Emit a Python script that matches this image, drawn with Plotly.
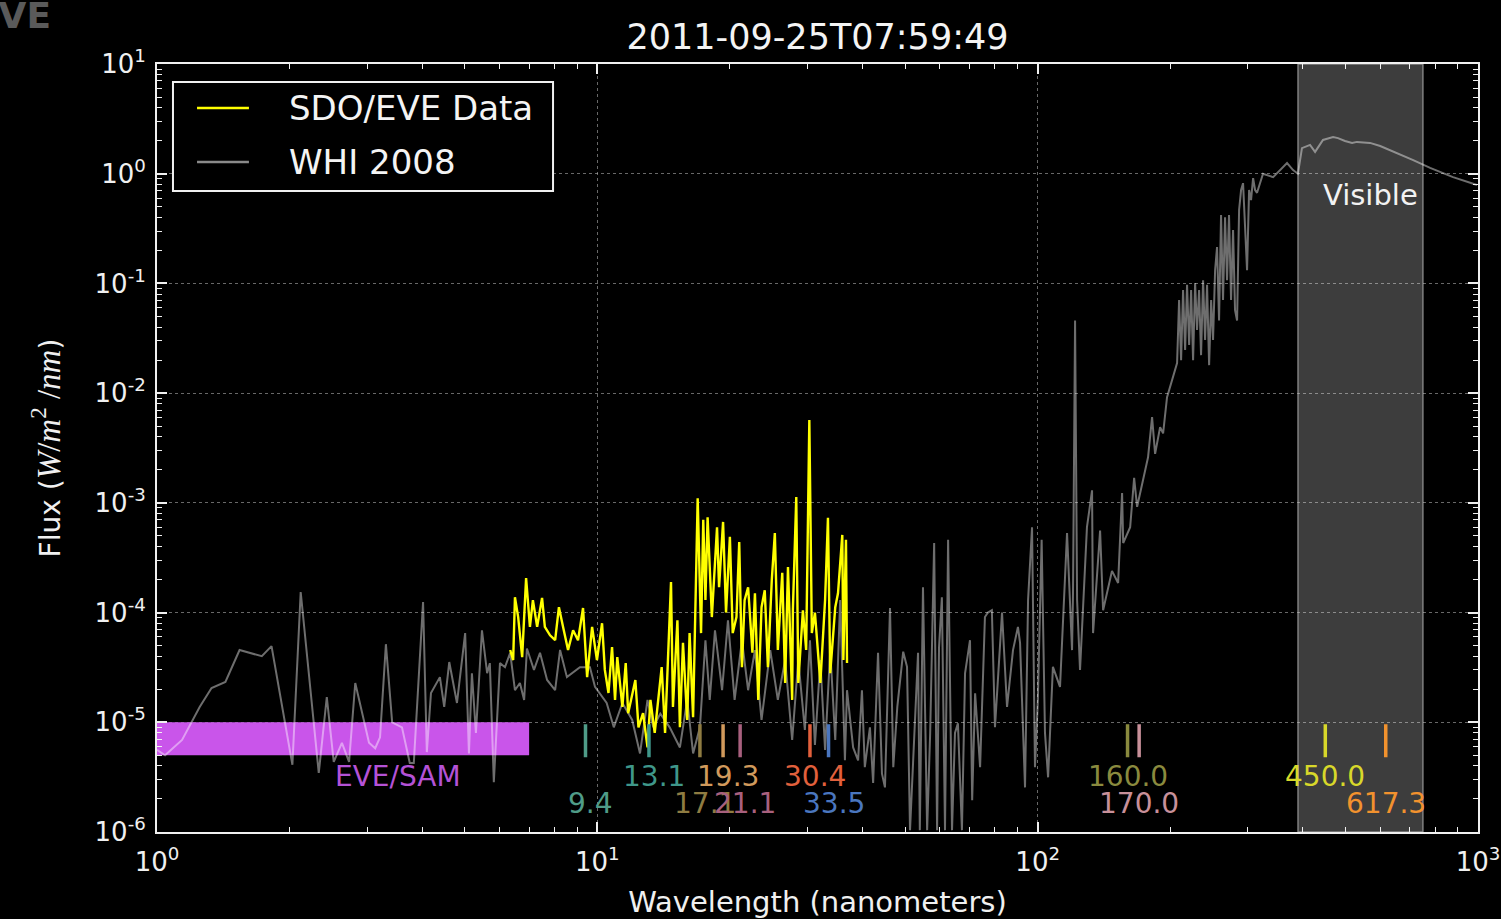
import numpy as np
import plotly.graph_objects as go

# ---------------- data ----------------
whi_wl = [1.00, 1.043, 1.14, 1.25, 1.33, 1.43, 1.54, 1.73, 1.82, 2.03, 2.12, 2.33, 2.43, 2.52, 2.63,
          2.73, 2.82, 3.03, 3.13, 3.21, 3.31, 3.42, 3.60, 3.75, 3.83, 4.02, 4.10, 4.19, 4.39, 4.49,
          4.61, 4.80, 5.01, 5.11, 5.19, 5.30, 5.47, 5.62, 5.70, 5.82, 6.01, 6.17, 6.34, 6.50, 6.67,
          6.82, 6.92, 7.18, 7.41, 7.69, 8.02, 8.23, 8.53, 9.13, 9.62, 9.88, 10.5, 10.9, 11.4, 12.0,
          12.5, 13.0, 13.4, 13.9, 14.6, 15.4, 16.0, 16.5, 17.1,
          17.6, 18.0, 18.5, 19.2, 19.8, 20.5, 21.3, 22.0, 22.8, 23.6, 24.7, 25.7, 26.7, 27.7, 28.6,
          29.6, 30.4, 31.2, 32.1, 32.9, 33.8, 34.7, 35.6, 36.5, 36.9,
          38.1, 39.1, 39.9, 40.5, 41.6, 42.3, 43.4, 44.3, 45.0, 46.2, 47.0, 48.0, 49.5, 50.5, 51.3,
          52.6, 53.5, 54.0, 54.9, 56.1, 57.0, 58.2, 59.1, 59.7, 60.6, 61.6, 62.6, 63.9, 64.9, 65.9,
          67.3, 68.4, 70.2, 71.0, 72.1, 74.0, 75.9, 77.1, 78.7, 80.0, 83.0, 85.2, 87.9, 90.2, 91.2,
          93.6, 95.1, 97.1, 98.6, 100.1, 102.1, 103.9, 105.6, 108.3, 112.4, 116.6, 119.7, 120.3, 121.6, 122.9,
          124.8, 129.4, 132.9, 133.6, 138.6, 140.8, 147.5, 152.3, 155.5, 156.4, 162.2, 165.6, 168.2, 173.4, 178.1,
          181.9, 184.8, 189.7, 192.7, 196.7, 203.0,
          207.3, 209.5, 211.7, 213.9, 216.2, 218.4, 220.8, 223.1, 225.4, 227.8, 230.1, 232.6, 235.0, 237.5, 240.0,
          242.5, 245.1, 247.7, 250.2, 252.9, 255.5, 258.2, 260.9, 263.6, 266.4, 269.2, 272.0, 274.9, 277.8, 280.7,
          283.7, 286.7, 289.7, 292.7, 295.8, 298.9, 302.1, 305.2, 308.5, 311.7, 314.9,
          324.9, 342.6, 355.0,
          368.4, 380.2, 390.0, 398.3, 415.5, 426.6, 444.6, 468.7, 480.9, 498.8, 517.6, 531.0, 568.5, 599.6, 655.0,
          712.6, 778.6, 877.6, 995.0]
whi_flux = [5.6e-6, 5.0e-6, 6.9e-6, 1.38e-5, 2.05e-5, 2.33e-5, 4.56e-5, 4.0e-5, 4.95e-5, 4.1e-6, 1.54e-4, 3.45e-6, 1.7e-5, 4.35e-6, 6.5e-6,
            4.35e-6, 2.28e-5, 6.5e-6, 5.8e-6, 7.3e-6, 5.15e-5, 1.0e-5, 9.0e-6, 4.25e-6, 4.25e-6, 1.25e-4, 5.35e-6, 1.85e-5, 2.58e-5, 1.38e-5,
            3.54e-5, 1.5e-5, 6.5e-5, 5.2e-6, 2.8e-5, 8.0e-6, 6.9e-5, 2.8e-5, 3.46e-5, 2.85e-6, 3.46e-5, 3.18e-5, 4.3e-5, 1.96e-5, 2.28e-5,
            1.6e-5, 4.7e-5, 3.0e-5, 4.3e-5, 2.43e-5, 1.96e-5, 4.56e-5, 2.58e-5, 3.18e-5, 3.18e-5, 2.1e-5, 1.5e-5, 9.0e-6, 1.5e-5, 1.05e-5,
            5.2e-6, 1.6e-5, 9.0e-6, 1.2e-5, 9.0e-6, 5.9e-6, 1.6e-5, 5.2e-6, 9.0e-6,
            5.6e-5, 1.6e-5, 6.9e-5, 1.96e-5, 8.5e-5, 1.6e-5, 5.6e-5, 1.96e-5, 4.55e-5, 1.05e-5, 4.55e-5, 1.6e-5, 3.7e-5, 6.9e-6, 3.7e-5,
            8.5e-6, 5.6e-5, 6.2e-6, 3.7e-5, 5.6e-6, 4.55e-5, 6.9e-6, 1.3e-4, 4.5e-6, 1.96e-5,
            5.9e-6, 4.5e-6, 1.96e-5, 3.9e-6, 9.0e-6, 2.8e-6, 4.3e-5, 3.4e-6, 2.55e-6, 1.1e-4, 3.9e-6, 1.38e-5, 4.4e-5, 3.2e-5, 1.04e-6,
            8.0e-6, 4.3e-5, 1.04e-6, 1.7e-4, 1.04e-6, 8.0e-6, 4.3e-4, 1.04e-6, 4.8e-5, 1.38e-4, 1.04e-6, 4.6e-4, 1.04e-6, 8.0e-6, 9.8e-6,
            1.04e-6, 2.8e-5, 5.6e-5, 1.95e-6, 1.84e-5, 3.9e-6, 9.1e-5, 1.0e-4, 1.05e-4, 9.0e-6, 1.0e-4, 1.38e-5, 4.55e-5, 7.4e-5, 5.3e-5,
            2.55e-6, 1.3e-4, 6.0e-4, 3.9e-6, 1.6e-5, 4.6e-4, 8.0e-6, 3.15e-6, 3.2e-5, 2.1e-5, 5.3e-4, 4.55e-5, 1.5e-4, 4.6e-2, 1.3e-4,
            3.0e-5, 6.0e-4, 1.3e-3, 6.5e-5, 5.6e-4, 1.05e-4, 2.4e-4, 1.86e-4, 1.23e-3, 4.3e-4, 6.0e-4, 1.69e-3, 9.2e-4, 1.6e-3, 2.6e-3,
            6.05e-3, 2.8e-3, 4.9e-3, 4.3e-3, 9.2e-3, 1.4e-2,
            1.88e-2, 7.06e-2, 2.0e-2, 8.7e-2, 2.47e-2, 9.7e-2, 2.75e-2, 8.7e-2, 2.0e-2, 0.101, 3.76e-2, 8.7e-2, 2.22e-2, 0.107, 3.05e-2,
            9.7e-2, 1.8e-2, 7.06e-2, 3.05e-2, 0.132, 0.215, 4.6e-2, 0.42, 7.06e-2, 0.40, 0.107, 0.42, 7.06e-2, 0.307, 5.7e-2,
            4.6e-2, 0.467, 0.71, 0.82, 0.307, 0.132, 0.71, 0.575, 0.91, 0.71, 0.67,
            1.0, 0.93, 1.08,
            1.25, 1.08, 1.0, 1.71, 1.83, 1.58, 2.03, 2.16, 2.11, 1.99, 1.91, 1.95, 1.91, 1.79, 1.55,
            1.33, 1.13, 0.93, 0.79]

eve_wl = [6.34, 6.44, 6.50, 6.61, 6.75, 6.89, 7.03, 7.14, 7.30, 7.49, 7.60, 7.81, 8.02, 8.18, 8.36,
          8.58, 8.81, 9.04, 9.28, 9.48, 9.73, 9.98, 10.25, 10.4, 10.6, 10.8, 10.97, 11.1, 11.4, 11.6,
          11.75, 12.2, 12.4, 12.7, 13.0, 13.2, 13.5, 14.0, 14.25, 14.7, 14.85, 15.2, 15.4, 15.65, 16.0,
          16.2, 16.5, 16.7, 16.9, 17.2, 17.4, 17.6, 17.8, 18.2, 18.7, 18.9, 19.3, 19.6, 20.0, 20.3,
          20.7, 21.0, 21.3, 21.6, 22.0, 22.5, 22.8, 23.2, 23.6, 24.0, 24.4, 24.9, 25.3, 25.7, 26.3,
          26.7, 27.1, 27.7, 27.8, 28.3, 28.6, 29.3, 29.8, 30.3, 30.7, 31.2, 32.1, 32.9, 33.4, 33.8,
          34.7, 35.2, 36.0, 36.2, 36.7, 36.9]
eve_flux = [4.56e-5, 3.69e-5, 1.38e-4, 9.1e-5, 3.93e-5, 2.06e-4, 7.4e-5, 1.3e-4, 7.4e-5, 1.36e-4, 7.4e-5, 6.2e-5, 5.6e-5, 1.12e-4, 7.4e-5,
            4.56e-5, 6.9e-5, 5.6e-5, 1.1e-4, 2.58e-5, 7.4e-5, 3.69e-5, 8.0e-5, 3.0e-5, 1.85e-5, 4.85e-5, 1.6e-5, 3.93e-5, 1.38e-5, 3.47e-5,
            1.21e-5, 2.43e-5, 9.0e-6, 1.21e-5, 5.9e-6, 1.6e-5, 8.0e-6, 3.18e-5, 8.0e-6, 1.9e-4, 1.38e-5, 8.5e-5, 9.0e-6, 5.3e-5, 1.05e-5,
            6.5e-5, 1.11e-5, 1.5e-4, 1.1e-3, 6.5e-5, 7.0e-4, 1.3e-4, 7.4e-4, 9.1e-5, 6.0e-4, 1.7e-4, 6.7e-4, 1.0e-4, 4.9e-4, 6.5e-5,
            9.1e-5, 4.4e-4, 3.18e-5, 1.3e-4, 1.7e-4, 4.3e-5, 1.5e-4, 1.6e-5, 1.12e-4, 1.6e-4, 3.18e-5, 1.98e-4, 5.3e-4, 4.56e-5, 2.3e-4,
            2.28e-5, 2.6e-4, 1.6e-5, 1.05e-4, 1.13e-3, 2.28e-5, 1.05e-4, 4.56e-5, 5.7e-3, 6.5e-5, 1.0e-4, 2.28e-5, 1.3e-4, 7.3e-4, 2.8e-5,
            1.12e-4, 1.5e-4, 5.1e-4, 3.69e-5, 4.6e-4, 3.47e-5]

line_wl = [9.4, 13.1, 17.1, 19.3, 21.1, 30.4, 33.5, 160.0, 170.0, 450.0, 617.3]
line_labels = ["9.4", "13.1", "17.1", "19.3", "21.1", "30.4", "33.5", "160.0", "170.0", "450.0", "617.3"]
line_row = [2, 1, 2, 1, 2, 1, 2, 1, 2, 1, 2]
line_colors = ["#4f9c88", "#3f978a", "#8f7c42", "#d19a5c", "#a8607e", "#e2603c", "#4a76bf",
               "#8a8a3e", "#c8909a", "#d8d82a", "#f2922e"]

sam_range = [1.0, 7.0]
sam_flux = [5.0e-6, 1.0e-5]
visible_range = [390.0, 750.0]

title_text = "2011-09-25T07:59:49"

# ---------------- figure ----------------
FONT = "DejaVu Sans"
fig = go.Figure()

# Visible band
fig.add_trace(go.Scatter(
    x=[visible_range[0], visible_range[1], visible_range[1], visible_range[0], visible_range[0]],
    y=[1e-6, 1e-6, 10, 10, 1e-6], mode="lines", fill="toself",
    fillcolor="rgba(255,255,255,0.24)", line=dict(color="rgba(200,200,200,0.55)", width=1.5),
    hoverinfo="skip", showlegend=False))

# EVE/SAM rectangle
fig.add_trace(go.Scatter(
    x=[sam_range[0], sam_range[1], sam_range[1], sam_range[0], sam_range[0]],
    y=[sam_flux[0], sam_flux[0], sam_flux[1], sam_flux[1], sam_flux[0]], mode="lines",
    fill="toself", fillcolor="#c955ea", line=dict(width=0, color="#c955ea"),
    hoverinfo="skip", showlegend=False))

# WHI 2008 reference spectrum
fig.add_trace(go.Scatter(x=whi_wl, y=whi_flux, mode="lines", name="WHI 2008",
                         line=dict(color="rgba(255,255,255,0.43)", width=2.0), showlegend=False))
# SDO/EVE data
fig.add_trace(go.Scatter(x=eve_wl, y=eve_flux, mode="lines", name="SDO/EVE Data",
                         line=dict(color="#ffff00", width=2.4), showlegend=False))

# line markers
row_y = {1: -5.49, 2: -5.737}
for wl, lab, row, col in zip(line_wl, line_labels, line_row, line_colors):
    fig.add_trace(go.Scatter(x=[wl, wl], y=[4.8e-6, 9.6e-6], mode="lines",
                             line=dict(color=col, width=3.5), hoverinfo="skip", showlegend=False))
    shift = 0.012 if wl < 100 else 0.0
    fig.add_annotation(x=np.log10(wl) + shift, y=row_y[row], xref="x", yref="y", text=lab,
                       showarrow=False, font=dict(family=FONT, size=28, color=col),
                       xanchor="center", yanchor="middle")

fig.add_annotation(x=np.log10(3.53), y=-5.49, xref="x", yref="y", text="EVE/SAM", showarrow=False,
                   font=dict(family=FONT, size=28, color="#b452d6"), xanchor="center", yanchor="middle")
fig.add_annotation(x=np.log10(568.8), y=-0.194, xref="x", yref="y", text="Visible", showarrow=False,
                   font=dict(family=FONT, size=29, color="#f2f2f2"), xanchor="center", yanchor="middle")

# Legend (drawn manually)
fig.add_shape(type="rect", xref="paper", yref="paper", x0=0.0121, x1=0.2998, y0=0.8346, y1=0.9766,
              line=dict(color="#f0f0f0", width=2), fillcolor="black", layer="above")
for yy, col, txt in [(0.9427, "#ffff00", "SDO/EVE Data"), (0.8724, "#8a8a8a", "WHI 2008")]:
    fig.add_shape(type="line", xref="paper", yref="paper", x0=0.0303, x1=0.0696, y0=yy, y1=yy,
                  line=dict(color=col, width=2.5), layer="above")
    fig.add_annotation(xref="paper", yref="paper", x=0.0984, y=yy, text=txt, showarrow=False,
                       xanchor="left", yanchor="middle", font=dict(family=FONT, size=34, color="#f4f4f4"))

# cut-off watermark at top-left
fig.add_annotation(xref="paper", yref="paper", x=(53 - 157) / 1321, y=1 + (64 - 15) / 768, text="<b>EVE</b>",
                   showarrow=False, xanchor="right", yanchor="middle",
                   font=dict(family=FONT, size=36, color="#5a5a5a"))

minor_vals = [m * 10 ** d for d in range(-6, 3) for m in range(2, 10)]

axis_common = dict(
    automargin=False,
    showline=True, linecolor="#f0f0f0", linewidth=2, mirror="allticks",
    ticks="inside", ticklen=10, tickwidth=1.5, tickcolor="#f0f0f0",
    showgrid=True, gridcolor="rgba(190,190,190,0.55)", griddash="dot", gridwidth=1,
    zeroline=False, tickfont=dict(family=FONT, size=26, color="#f0f0f0"),
    minor=dict(ticks="inside", ticklen=5, tickwidth=1.2, tickcolor="#f0f0f0",
               tickmode="array", tickvals=minor_vals, showgrid=False),
)

fig.update_layout(
    width=1501, height=919,
    paper_bgcolor="black", plot_bgcolor="black",
    margin=dict(l=157, r=23, t=64, b=87),
    showlegend=False,
    title=dict(text=title_text, x=0.5, xref="paper", y=1 - 37 / 919, yref="container",
               xanchor="center", yanchor="middle",
               font=dict(family=FONT, size=35, color="#f4f4f4")),
    xaxis=dict(type="log", range=[0, 3], tickmode="array",
               tickvals=[1, 10, 100, 1000],
               ticktext=["10<sup>0</sup>", "10<sup>1</sup>", "10<sup>2</sup>", "10<sup>3</sup>"],
               ticklabelstandoff=6,
               title=dict(text="Wavelength (nanometers)", standoff=16,
                          font=dict(family=FONT, size=29, color="#f0f0f0")),
               **axis_common),
    yaxis=dict(type="log", range=[-6, 1], tickmode="array",
               tickvals=[10 ** k for k in range(-6, 2)],
               ticktext=["10<sup>%d</sup>" % k for k in range(-6, 2)],
               ticklabelstandoff=4,
               title=dict(text="Flux (<span style='font-family:Liberation Serif;font-size:33px'><i>W</i>/<i>m</i><sup>2</sup> /<i>nm</i></span>)",
                          standoff=26, font=dict(family=FONT, size=28, color="#f0f0f0")),
               **axis_common),
)

fig.write_html("out.html")
